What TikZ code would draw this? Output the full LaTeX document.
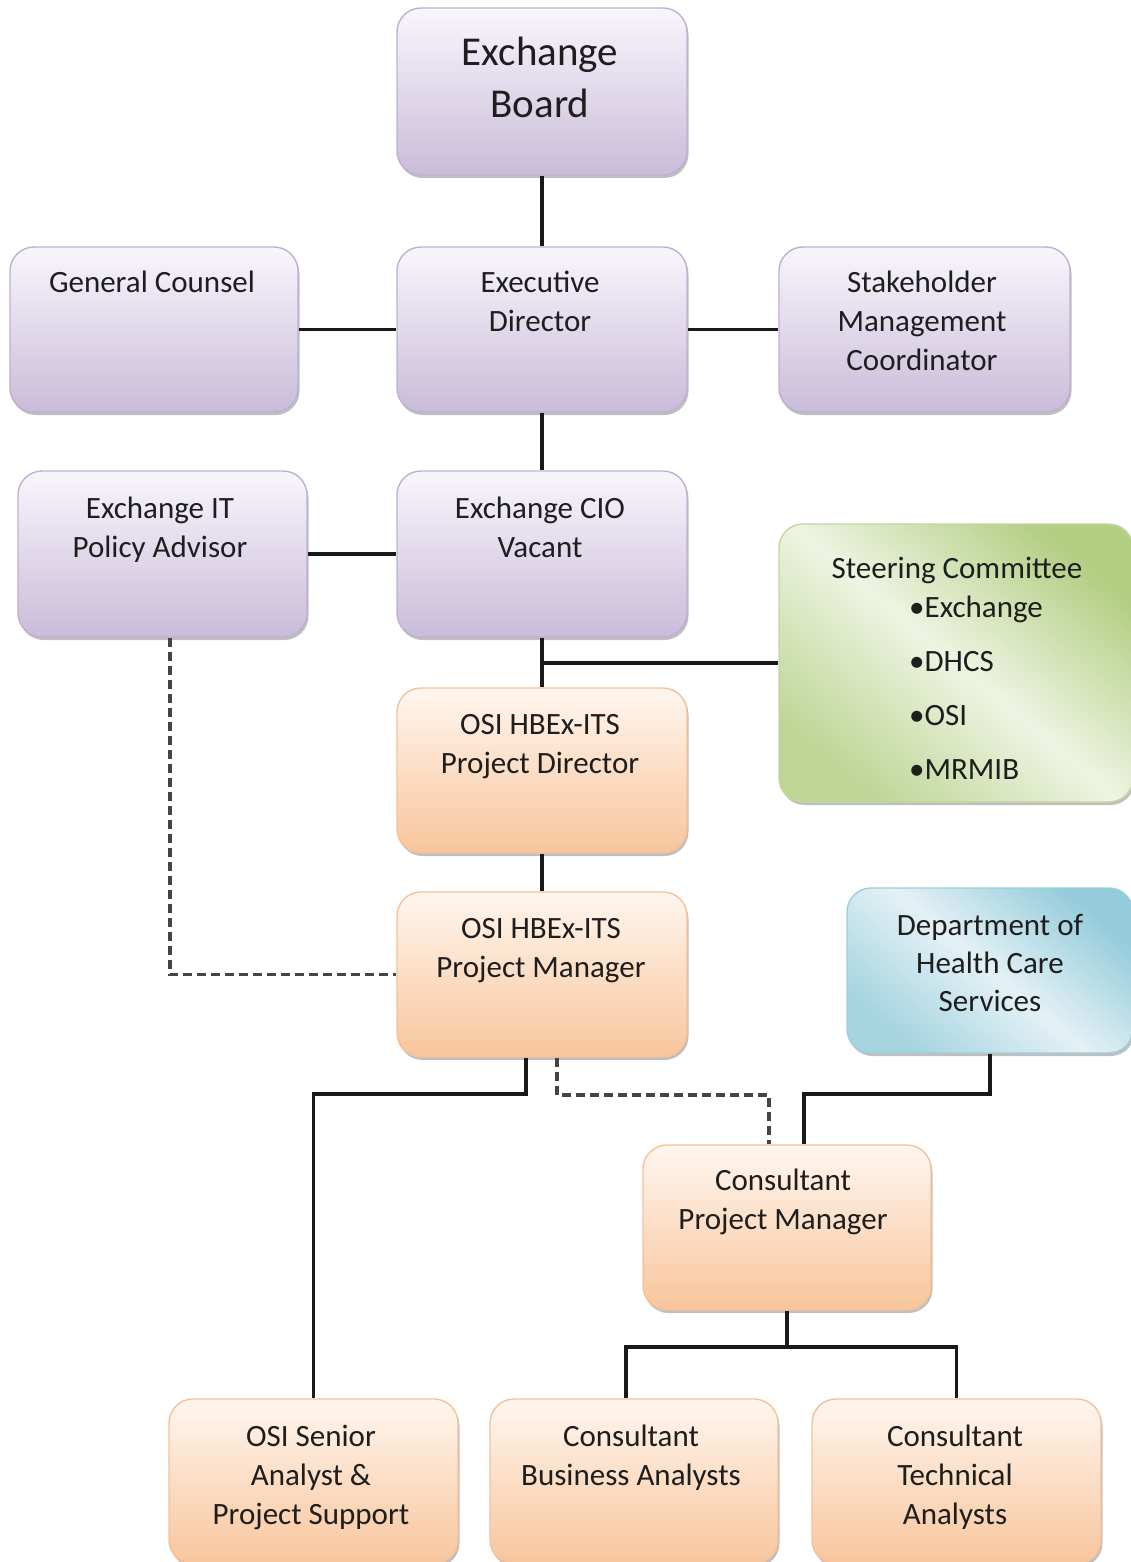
\documentclass[tikz,border=0pt]{standalone}
\usepackage{fontspec}
\setmainfont{Carlito}
\usetikzlibrary{shadows}
\definecolor{pTop}{HTML}{F8F6FB}
\definecolor{pBot}{HTML}{CABCDA}
\definecolor{pLine}{HTML}{BFB0D3}
\definecolor{oTop}{HTML}{FFF6EE}
\definecolor{oBot}{HTML}{F8C59C}
\definecolor{oLine}{HTML}{F3C29A}
\definecolor{gEdge}{HTML}{B4CE84}
\definecolor{gMid}{HTML}{EEF4E2}
\definecolor{gLine}{HTML}{C3D7A0}
\definecolor{bEdge}{HTML}{95CCDB}
\definecolor{bMid}{HTML}{E4F1F5}
\definecolor{bLine}{HTML}{9ECFDC}
\definecolor{txtc}{HTML}{1E1E1E}
\definecolor{dashc}{HTML}{444444}
\begin{document}
\begin{tikzpicture}[x=1pt,y=-1pt,
  basebox/.style={rounded corners=24pt, line width=1.4pt, minimum width=289pt, minimum height=165pt, inner sep=0pt,
    drop shadow={shadow xshift=1.5pt, shadow yshift=-3pt, fill=black, opacity=0.25}},
  pbox/.style={basebox, draw=pLine, top color=pTop, bottom color=pBot},
  obox/.style={basebox, draw=oLine, top color=oTop, bottom color=oBot},
  gbox/.style={basebox, draw=gLine, top color=gEdge, bottom color=gEdge!85!white, middle color=gMid, shading angle=-40},
  bbox/.style={basebox, draw=bLine, top color=bEdge, bottom color=bEdge!85!white, middle color=bMid, shading angle=-40},
  txt/.style={anchor=north, align=center, inner sep=0pt, text=txtc, font=\fontsize{31}{39.5}\selectfont},
  conn/.style={line width=3.2pt, draw=black!90},
  dconn/.style={line width=3.2pt, draw=dashc, dash pattern=on 9pt off 5pt}]
\useasboundingbox (0,0) rectangle (1130,1562);
\fill[white] (0,0) rectangle (1130,1562);

% boxes
\node[pbox, minimum height=167pt, minimum width=290pt] (board) at (542,91.5) {};
\node[pbox, minimum width=288pt] (gc) at (154,329.5) {};
\node[pbox, minimum width=290pt] (ed) at (542,329.5) {};
\node[pbox, minimum width=291pt] (smc) at (924.5,329.5) {};
\node[pbox, minimum height=166pt] (itpa) at (162.5,554) {};
\node[pbox, minimum height=166pt, minimum width=290pt] (cio) at (542,554) {};
\node[gbox, minimum width=354pt, minimum height=278pt] (steer) at (956,663) {};
\node[obox, minimum width=290pt] (pd) at (542,770.5) {};
\node[obox, minimum width=290pt] (pm) at (542,974.5) {};
\node[bbox, minimum width=286pt] (dhcs) at (990,970.5) {};
\node[obox, minimum width=288pt] (cpm) at (787,1227.5) {};
\node[obox] (osi) at (313.5,1481.5) {};
\node[obox, minimum width=288pt] (cba) at (634,1481.5) {};
\node[obox] (cta) at (956.5,1481.5) {};

% texts
\node[txt, font=\fontsize{41}{52}\selectfont] (tboard) at (540,28.8) {\strut Exchange\\Board};
\node[txt] (tgc) at (152,264.4) {\strut General Counsel};
\node[txt] (ted) at (540,264.4) {\strut Executive\\Director};
\node[txt, font=\fontsize{31}{39}\selectfont] (tsmc) at (922,264.7) {\strut Stakeholder\\Management\\Coordinator};
\node[txt] (titpa) at (160,490.4) {\strut Exchange IT\\Policy Advisor};
\node[txt] (tcio) at (540,490.4) {\strut Exchange CIO\\Vacant};
\node[txt] (tsteer) at (957,550.4) {\strut Steering Committee};
\node[txt, anchor=north west, align=left, font=\fontsize{31}{54}\selectfont] (tbul) at (909,579.2)
  {\strut\textbullet Exchange\\\textbullet DHCS\\\textbullet OSI\\\textbullet MRMIB};
\node[txt] (tpd) at (540,706.4) {\strut OSI HBEx-ITS\\Project Director};
\node[txt] (tpm) at (541,910.4) {\strut OSI HBEx-ITS\\Project Manager};
\node[txt, font=\fontsize{31}{38}\selectfont] (tdhcs) at (990,908.4) {\strut Department of\\Health Care\\Services};
\node[txt] (tcpm) at (783,1162.4) {\strut Consultant\\Project Manager};
\node[txt, font=\fontsize{31}{39}\selectfont] (tosi) at (311,1418.7) {\strut OSI Senior\\Analyst \&\\Project Support};
\node[txt] (tcba) at (631,1418.4) {\strut Consultant\\Business Analysts};
\node[txt, font=\fontsize{31}{39}\selectfont] (tcta) at (955,1418.7) {\strut Consultant\\Technical\\Analysts};

% connectors
\draw[conn] (board.south) -- (ed.north);
\draw[conn] (gc.east) -- (ed.west);
\draw[conn] (ed.east) -- (smc.west);
\draw[conn] (ed.south) -- (cio.north);
\draw[conn] (itpa.east) -- (cio.west);
\draw[conn] (cio.south) -- (pd.north);
\draw[conn] (cio.south |- steer.west) -- (steer.west);
\draw[conn] (pd.south) -- (pm.north);
\draw[dconn] ([xshift=7.5pt]itpa.south) |- (pm.west);
\draw[conn] ([xshift=-16pt]pm.south) |- (osi.north |- 0,1094) -- (osi.north);
\draw[dconn] ([xshift=15pt]pm.south) |- ([xshift=-18pt]cpm.north |- 0,1095) -- ([xshift=-18pt]cpm.north);
\draw[conn] (dhcs.south) |- ([xshift=17pt]cpm.north |- 0,1094) -- ([xshift=17pt]cpm.north);
\draw[conn] (cpm.south) -- (cpm.south |- 0,1347);
\draw[conn] ([xshift=-8pt]cba.north) |- (cta.north |- 0,1347) -- (cta.north);
\end{tikzpicture}
\end{document}
